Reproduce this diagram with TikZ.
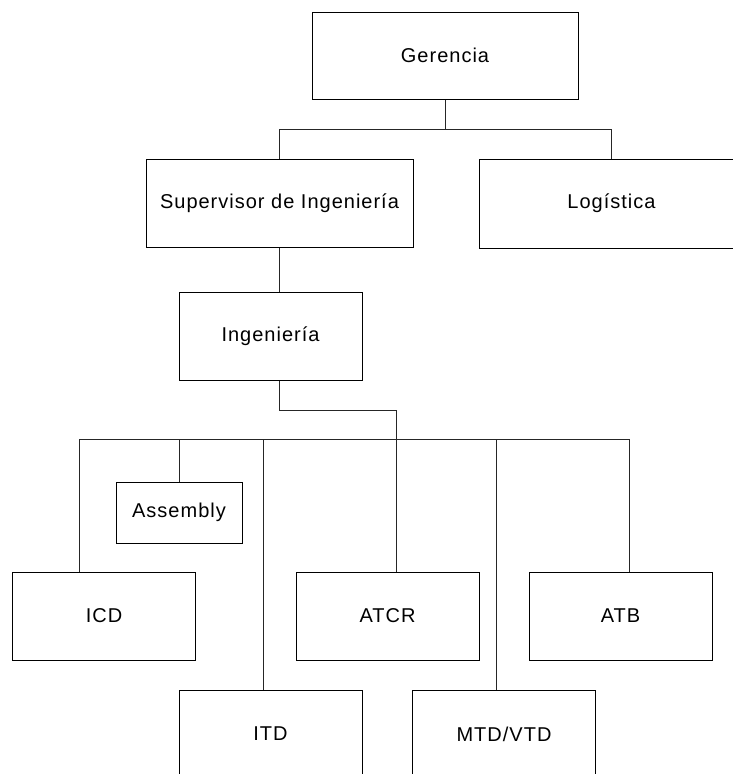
\documentclass[tikz,border=0pt]{standalone}
\usepackage{fontspec}
\setmainfont[LetterSpace=5]{Liberation Sans}
\begin{document}
\begin{tikzpicture}[x=1pt,y=-1pt,
  box/.style={draw=black, line width=1pt, minimum width=#1, minimum height=88pt,
    inner sep=0pt, font=\fontsize{20}{24}\selectfont},
  box/.default=183pt,
  link/.style={draw=black!85, line width=1pt}]
\useasboundingbox (0,0) rectangle (733,774);
\begin{scope}
\clip (0,0) rectangle (733,774);
% boxes
\node[box=266pt, minimum height=87pt] (ger) at (445,55.5) {Gerencia};
\node[box=267pt] (sup) at (279.5,203) {Supervisor de Ingeniería};
\node[box=265pt, minimum height=89pt] (log) at (611.5,203.5) {Logística};
\node[box] (ing) at (270.5,336) {Ingeniería};
\node[box=126pt, minimum height=61pt] (asm) at (179,512.5) {Assembly};
\node[box] (icd) at (104,616) {ICD};
\node[box] (atcr) at (387.5,616) {ATCR};
\node[box] (atb) at (620.5,616) {ATB};
\node[box] (itd) at (270.5,734) {ITD};
\node[box] (mtd) at (504,734) {MTD/VTD};
% helper coordinates
\coordinate (bus1) at (445,129);
\coordinate (elbow) at (0,410);
\coordinate (bus2) at (0,439);
% top level
\draw[link] (ger.south) -- (bus1);
\draw[link] (sup.north) -- (sup.north |- bus1) -| (log.north);
\draw[link] (sup.south) -- (sup.south |- ing.north);
% Ingeniería to bus
\draw[link] (ing.south -| sup.south) -- (sup.south |- elbow) -| ([xshift=8.5pt]atcr.north);
% lower bus
\draw[link] ([xshift=-25pt]icd.north) -- ([xshift=-25pt]icd.north |- bus2) -| ([xshift=8.5pt]atb.north);
\draw[link] (asm.north) -- (asm.north |- bus2);
\draw[link] ([xshift=-7.5pt]itd.north) -- ([xshift=-7.5pt]itd.north |- bus2);
\draw[link] ([xshift=-8pt]mtd.north) -- ([xshift=-8pt]mtd.north |- bus2);
\end{scope}
\end{tikzpicture}
\end{document}
